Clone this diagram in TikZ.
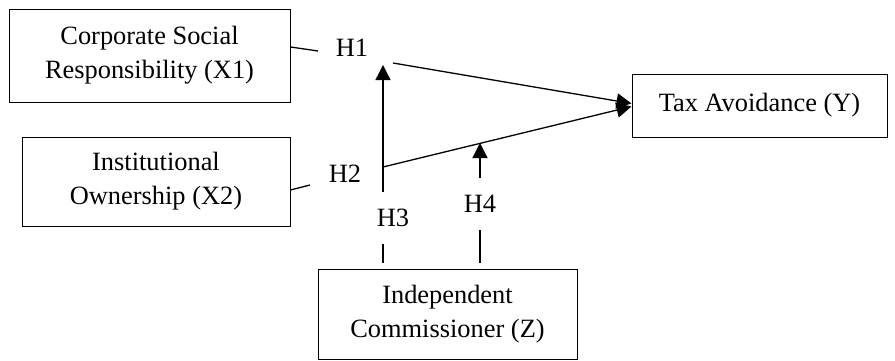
\documentclass[tikz,border=0pt]{standalone}
\usepackage{fontspec}
\setmainfont{Liberation Serif}
\usepackage{tikz}
\usetikzlibrary{arrows.meta,calc}
\tikzset{
  box/.style={draw, line width=1pt, align=center, inner sep=0pt, font=\fontsize{26.4}{34}\selectfont},
  hyp/.style={inner xsep=2pt, inner ysep=17pt, font=\fontsize{26.4}{34}\selectfont},
  link/.style={line width=1.3pt},
  arr/.style={-{Triangle[length=15pt,width=15pt]}, line width=1.3pt}
}

\begin{document}
\begin{tikzpicture}[x=1pt,y=1pt]
  \useasboundingbox (0,0) rectangle (895,360);
  % variables
  \node[box, minimum width=281, minimum height=93] (X1) at (149.5,304.5) {Corporate Social\\Responsibility (X1)};
  \node[box, minimum width=268, minimum height=89] (X2) at (156,178.5) {Institutional\\Ownership (X2)};
  \node[box, minimum width=255, minimum height=63] (Y) at (759.5,254.5) {Tax Avoidance (Y)};
  \node[box, minimum width=259, minimum height=90] (Z) at (447.5,46) {Independent\\Commissioner (Z)};
  % hypotheses
  \node[hyp] (H1) at (352,312) {H1};
  \node[hyp] (H2) at (345,186.5) {H2};
  \node[hyp] (H3) at (393,142) {H3};
  \node[hyp] (H4) at (480,156) {H4};
  \coordinate (t3) at (383,295);
  \coordinate (s1) at (393,297);
  \coordinate (s2) at (383,193);
  \coordinate (e1) at (318,309);
  \coordinate (e2) at (310,175);
  \coordinate (m4) at ($(s2)!0.39!(Y.west)$);
  \draw[link] ([yshift=8.5pt]X1.east) -- (e1);
  \draw[link] ([yshift=-8.5pt]X2.east) -- (e2);
  \draw[arr] (s1) -- ([yshift=2pt]Y.west);
  \draw[arr] (s2) -- ([yshift=-1pt]Y.west);
  % moderation
  \draw[arr] (H3.north -| t3) -- (t3);
  \draw[link, shorten <=6pt] (Z.north -| t3) -- (H3.south -| t3);
  \draw[arr] (H4.north) -- (H4.north |- m4);
  \draw[link, shorten <=6pt] (Z.north -| H4) -- (H4.south);
\end{tikzpicture}
\end{document}
